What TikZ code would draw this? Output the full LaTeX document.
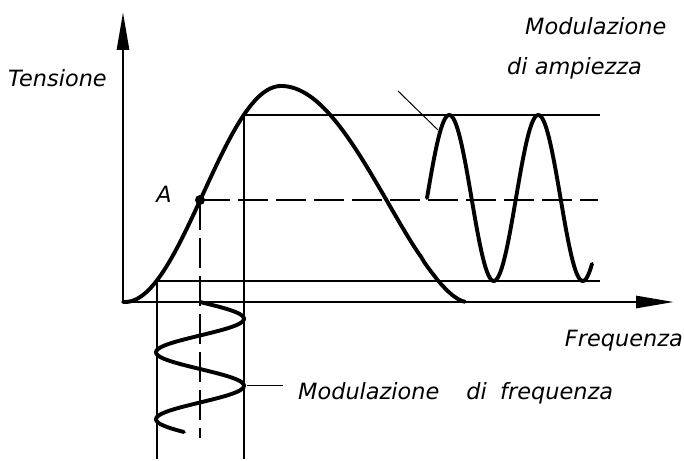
\documentclass[tikz,border=0pt]{standalone}
\usepackage{fontspec}
\setmainfont{DejaVu Sans}
\usetikzlibrary{arrows.meta}

\begin{document}
\begin{tikzpicture}[x=1bp, y=-1bp,
    every node/.style={font=\fontsize{22.5}{26}\selectfont\itshape, inner sep=0pt},
    axis/.style={line width=2.8bp, -{Triangle[length=38bp, width=12bp]}},
    curve/.style={line width=3.9bp, line cap=round},
    guide/.style={line width=1.5bp},
    dashline/.style={line width=1.5bp, dash pattern=on 30bp off 8bp},
    leader/.style={line width=1bp}]
  \useasboundingbox (0,0) rectangle (684,461);
  % axes
  \coordinate (O) at (123,302);
  \coordinate (ytip) at (123,12);
  \coordinate (xtip) at (674,302);
  \draw[axis] (O) -- (ytip);
  \draw[axis] (O) -- (xtip);
  % guide lines
  \coordinate (lowL) at (157,281);
  \coordinate (lowR) at (600,281);
  \coordinate (lowB) at (157,459);
  \coordinate (topL) at (244,115);
  \coordinate (topR) at (600,115);
  \coordinate (topB) at (244,459);
  \coordinate (A) at (200,200);
  \coordinate (midR) at (598,200);
  \coordinate (midB) at (200,438);
  \draw[guide] (lowL) -- (lowR);
  \draw[guide] (topL) -- (topR);
  \draw[guide] (lowL) -- (lowB);
  \draw[guide] (topL) -- (topB);
  \draw[dashline] (A) -- (midR);
  \draw[dashline] (A) -- (midB);
  % characteristic
  \draw[curve] (O) -- plot[domain=125:281, samples=60] (\x, {302-108*(1+cos((281-\x)/156*180))})
    -- plot[domain=281:465, samples=60] (\x, {302-216*((1+cos((\x-281)/185*180))/2+0.0001)^0.8});
  \fill (A) circle (5bp);
  % amplitude modulation
  \draw[curve] plot[domain=427:592, samples=120] (\x, {198-83*sin((\x-427)/89*360)});
  % frequency modulation
  \draw[curve] plot[domain=302:432, samples=120] ({200+44*sin((\x-302)/67*360)}, \x);
  % labels
  \node[anchor=base west] (tension) at (8,87) {Tensione};
  \node[anchor=base] (ptA) at (164,203) {A};
  \node[anchor=base east] (freq) at (683,346) {Frequenza};
  \node[anchor=base west] (amtop) at (525,35) {Modulazione};
  \node[anchor=base west] (ambot) at (507,75) {di ampiezza};
  \node[anchor=base west] (fmlbl) at (298,399) {Modulazione\hspace{1.2em}di\hspace{0.6em}frequenza};
  % leaders
  \coordinate (amtip) at (438,130);
  \coordinate (amfoot) at (398,91);
  \coordinate (fmtip) at (247,385);
  \coordinate (fmfoot) at (283,385);
  \draw[leader] (amtip) -- (amfoot);
  \draw[leader] (fmtip) -- (fmfoot);
\end{tikzpicture}
\end{document}
